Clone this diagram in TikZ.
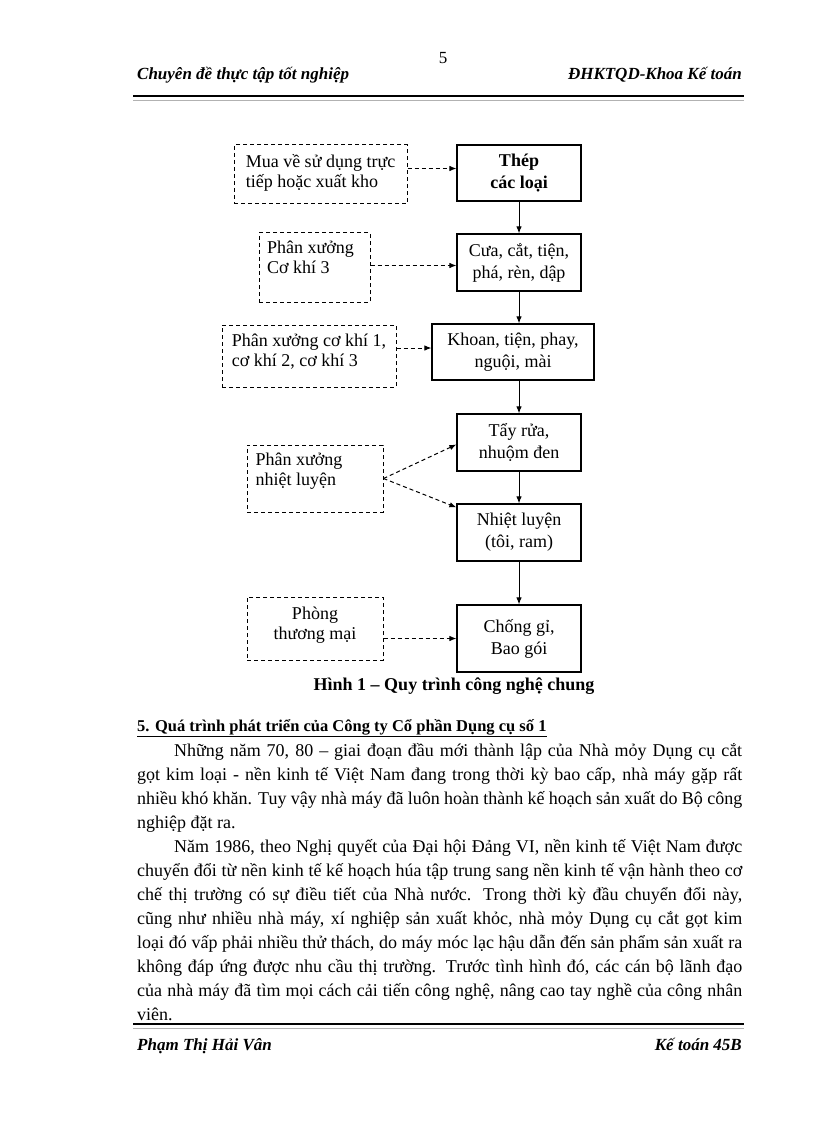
\documentclass[tikz,border=0pt]{standalone}
\usepackage{fontspec}
\setmainfont{Liberation Serif}
\usetikzlibrary{arrows.meta,calc}

\begin{document}
\begin{tikzpicture}[x=1pt, y=-1pt,
  stepbox/.style={draw, line width=1.2pt, minimum width=124pt, minimum height=57pt,
    align=center, inner sep=2pt, font=\fontsize{18}{22}\selectfont},
  srcbox/.style={draw, line width=1pt, dash pattern=on 4pt off 3pt},
  srctext/.style={align=left, inner sep=0pt, font=\fontsize{18}{20}\selectfont},
  flow/.style={-{Latex[length=7pt,width=5.5pt]}, line width=1pt},
  feed/.style={flow, dash pattern=on 4pt off 3pt},
  pagetext/.style={inner sep=0pt, font=\fontsize{17}{20}\selectfont\bfseries\itshape},
  bodyline/.style={anchor=base west, inner sep=0pt, font=\fontsize{18}{24}\selectfont}]
  \fill[white] (0,0) rectangle (816,1123);
  \useasboundingbox (0,0) rectangle (816,1123);

  % Header
  \node[inner sep=0pt, font=\fontsize{17}{20}\selectfont] (pageno) at (443,58) {5};
  \node[pagetext, anchor=base west] (headl) at (137,80) {Chuyên đề thực tập tốt nghiệp};
  \node[pagetext, anchor=base east] (headr) at (742,80) {ĐHKTQD-Khoa Kế toán};
  \draw[line width=2.5pt] (133,96) -- (744,96);
  \draw[gray!60, line width=0.6pt] (133,100) -- (744,100);

  % Process steps
  \node[stepbox, font=\fontsize{18}{22}\selectfont\bfseries, minimum height=56pt] (thep) at (519,173) {Thép\\các loại};
  \node[stepbox] (cua) at (519,262.5) {Cưa, cắt, tiện,\\phá, rèn, dập};
  \node[stepbox, minimum width=162pt, minimum height=56pt] (khoan) at (513,352) {Khoan, tiện, phay,\\nguội, mài};
  \node[stepbox] (tayrua) at (519,442.5) {Tẩy rửa,\\nhuộm đen};
  \node[stepbox] (nhietluyen) at (519,532.5) {Nhiệt luyện\\(tôi, ram)};
  \node[stepbox, minimum height=67pt] (chonggi) at (519,638.5) {Chống gỉ,\\Bao gói};

  % Sources (dashed)
  \node[srcbox, minimum width=173pt, minimum height=59pt,
    label={[srctext, yshift=2pt]center:Mua về sử dụng trực\\tiếp hoặc xuất kho}] (mua) at (320.5,174.5) {};
  \node[srcbox, minimum width=111pt, minimum height=69pt,
    label={[srctext, xshift=-4pt, yshift=10pt]center:Phân xưởng\\Cơ khí 3}] (pcs3) at (314.5,267.5) {};
  \node[srcbox, minimum width=174pt, minimum height=62pt,
    label={[srctext, yshift=4pt]center:Phân xưởng cơ khí 1,\\cơ khí 2, cơ khí 3}] (pck) at (309,356) {};
  \node[srcbox, minimum width=136pt, minimum height=67pt,
    label={[srctext, xshift=-16pt, yshift=7pt]center:Phân xưởng\\nhiệt luyện}] (pnl) at (315,478.5) {};
  \node[srcbox, minimum width=136pt, minimum height=63pt,
    label={[srctext, align=center, yshift=3pt]center:Phòng\\thương mại}] (ptm) at (315,628.5) {};

  % Main flow
  \draw[flow] (thep) -- (cua);
  \draw[flow] (cua.south) -- (cua.south |- khoan.north);
  \draw[flow] (khoan.south -| tayrua) -- (tayrua.north);
  \draw[flow] (tayrua) -- (nhietluyen);
  \draw[flow] (nhietluyen) -- (chonggi);

  % Feeds
  \draw[feed] ([yshift=6pt]mua.east) -- ([yshift=6pt]mua.east -| thep.west);
  \draw[feed] ([yshift=2pt]pcs3.east) -- ([yshift=2pt]pcs3.east -| cua.west);
  \draw[feed] ([yshift=8pt]pck.east) -- ([yshift=8pt]pck.east -| khoan.west);
  \draw[feed] (pnl.east) -- ([yshift=-2pt]tayrua.west);
  \draw[feed] (pnl.east) -- ([yshift=-4pt]nhietluyen.north west);
  \draw[feed] (ptm.east |- chonggi.west) -- (chonggi.west);

  \node[inner sep=0pt, anchor=base, font=\fontsize{18}{20}\selectfont\bfseries] (caption) at (454,690) {Hình 1 – Quy trình công nghệ chung};

  % Section text
  \node[bodyline, font=\fontsize{16.5}{24}\selectfont\bfseries] (heading) at (137,731) {\underline{5. Quá trình phát triển của Công ty Cổ phần Dụng cụ số 1}};
  \node[bodyline] (line756) at (174,756) {\makebox[568pt][s]{Những năm 70, 80 – giai đoạn đầu mới thành lập của Nhà mỏy Dụng cụ cắt}};
  \node[bodyline] (line852) at (174,852) {\makebox[568pt][s]{Năm 1986, theo Nghị quyết của Đại hội Đảng VI, nền kinh tế Việt Nam được}};
  \foreach \y/\t in {
    780/{gọt kim loại - nền kinh tế Việt Nam đang trong thời kỳ bao cấp, nhà máy gặp rất},
    804/{nhiều khó khăn. Tuy vậy nhà máy đã luôn hoàn thành kế hoạch sản xuất do Bộ công},
    876/{chuyển đổi từ nền kinh tế kế hoạch húa tập trung sang nền kinh tế vận hành theo cơ},
    900/{chế thị trường có sự điều tiết của Nhà nước. Trong thời kỳ đầu chuyển đổi này,},
    924/{cũng như nhiều nhà máy, xí nghiệp sản xuất khỏc, nhà mỏy Dụng cụ cắt gọt kim},
    948/{loại đó vấp phải nhiều thử thách, do máy móc lạc hậu dẫn đến sản phẩm sản xuất ra},
    972/{không đáp ứng được nhu cầu thị trường. Trước tình hình đó, các cán bộ lãnh đạo},
    996/{của nhà máy đã tìm mọi cách cải tiến công nghệ, nâng cao tay nghề của công nhân}}
    \node[bodyline] (line\y) at (137,\y) {\makebox[605pt][s]{\t}};
  \node[bodyline] (line828) at (137,828) {nghiệp đặt ra.};
  \node[bodyline] (line1020) at (137,1020) {viên.};

  % Footer
  \draw[line width=2.5pt] (133,1024) -- (744,1024);
  \draw[gray!60, line width=0.6pt] (133,1028) -- (744,1028);
  \node[pagetext, anchor=base west] (footl) at (137,1050) {Phạm Thị Hải Vân};
  \node[pagetext, anchor=base east] (footr) at (742,1050) {Kế toán 45B};
\end{tikzpicture}
\end{document}
